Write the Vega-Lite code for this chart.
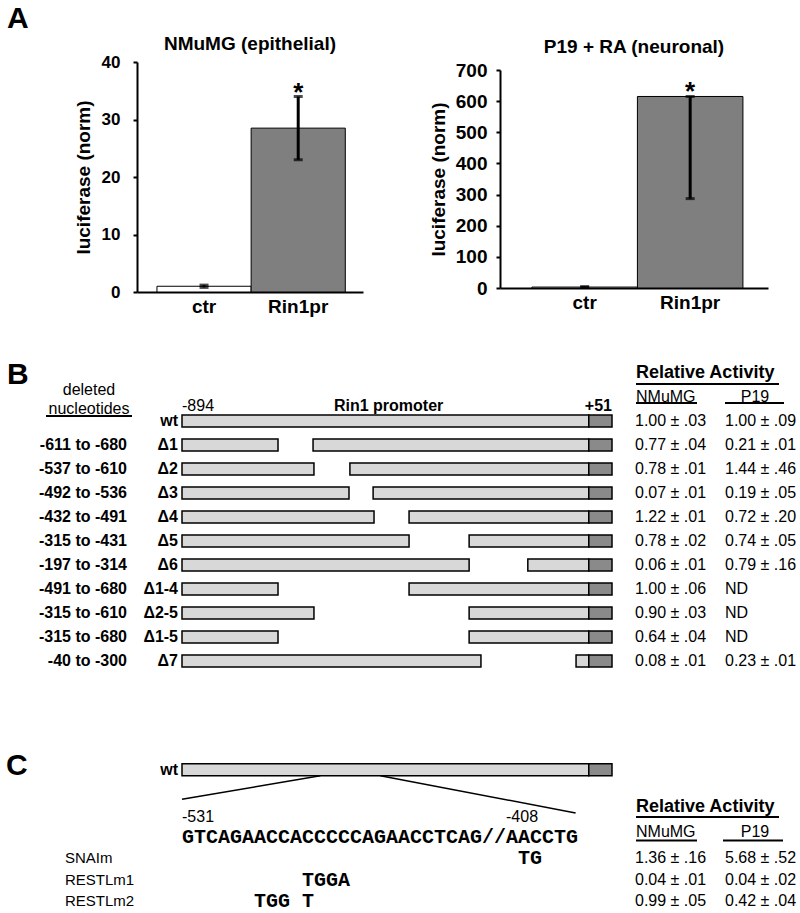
{
  "$schema": "https://vega.github.io/schema/vega-lite/v6.json",
  "background": "white",
  "padding": {"left": 6, "top": 4, "right": 0, "bottom": 0},
  "config": {
    "font": "Liberation Sans",
    "view": {"stroke": null},
    "text": {"color": "black", "font": "Liberation Sans"},
    "title": {"color": "black"},
    "axis": {"labelColor": "black", "titleColor": "black", "domainColor": "black", "tickColor": "black", "grid": false}
  },
  "datasets": {
    "a1": [
      {"sample": "ctr", "value": 1, "lo": 0.8, "hi": 1.2, "mark": ""},
      {"sample": "Rin1pr", "value": 28.5, "lo": 23, "hi": 34, "mark": "*"}
    ],
    "a2": [
      {"sample": "ctr", "value": 3, "lo": 1.5, "hi": 4.5, "mark": ""},
      {"sample": "Rin1pr", "value": 615, "lo": 287, "hi": 615, "mark": "*"}
    ],
    "segB": [
      {"construct": "wt", "start": -894, "end": 0, "part": "promoter"},
      {"construct": "wt", "start": 0, "end": 51, "part": "luc"},
      {"construct": "Δ1", "start": -894, "end": -683, "part": "promoter"},
      {"construct": "Δ1", "start": -606, "end": 0, "part": "promoter"},
      {"construct": "Δ1", "start": 0, "end": 51, "part": "luc"},
      {"construct": "Δ2", "start": -894, "end": -604, "part": "promoter"},
      {"construct": "Δ2", "start": -525, "end": 0, "part": "promoter"},
      {"construct": "Δ2", "start": 0, "end": 51, "part": "luc"},
      {"construct": "Δ3", "start": -894, "end": -527, "part": "promoter"},
      {"construct": "Δ3", "start": -474, "end": 0, "part": "promoter"},
      {"construct": "Δ3", "start": 0, "end": 51, "part": "luc"},
      {"construct": "Δ4", "start": -894, "end": -472, "part": "promoter"},
      {"construct": "Δ4", "start": -395, "end": 0, "part": "promoter"},
      {"construct": "Δ4", "start": 0, "end": 51, "part": "luc"},
      {"construct": "Δ5", "start": -894, "end": -395, "part": "promoter"},
      {"construct": "Δ5", "start": -263, "end": 0, "part": "promoter"},
      {"construct": "Δ5", "start": 0, "end": 51, "part": "luc"},
      {"construct": "Δ6", "start": -894, "end": -263, "part": "promoter"},
      {"construct": "Δ6", "start": -134, "end": 0, "part": "promoter"},
      {"construct": "Δ6", "start": 0, "end": 51, "part": "luc"},
      {"construct": "Δ1-4", "start": -894, "end": -683, "part": "promoter"},
      {"construct": "Δ1-4", "start": -395, "end": 0, "part": "promoter"},
      {"construct": "Δ1-4", "start": 0, "end": 51, "part": "luc"},
      {"construct": "Δ2-5", "start": -894, "end": -604, "part": "promoter"},
      {"construct": "Δ2-5", "start": -263, "end": 0, "part": "promoter"},
      {"construct": "Δ2-5", "start": 0, "end": 51, "part": "luc"},
      {"construct": "Δ1-5", "start": -894, "end": -683, "part": "promoter"},
      {"construct": "Δ1-5", "start": -263, "end": 0, "part": "promoter"},
      {"construct": "Δ1-5", "start": 0, "end": 51, "part": "luc"},
      {"construct": "Δ7", "start": -894, "end": -237, "part": "promoter"},
      {"construct": "Δ7", "start": -28, "end": 0, "part": "promoter"},
      {"construct": "Δ7", "start": 0, "end": 51, "part": "luc"}
    ],
    "conB": [
      {"construct": "wt", "deleted": "", "nm": "1.00 ± .03", "p19": "1.00 ± .09"},
      {"construct": "Δ1", "deleted": "-611 to -680", "nm": "0.77 ± .04", "p19": "0.21 ± .01"},
      {"construct": "Δ2", "deleted": "-537 to -610", "nm": "0.78 ± .01", "p19": "1.44 ± .46"},
      {"construct": "Δ3", "deleted": "-492 to -536", "nm": "0.07 ± .01", "p19": "0.19 ± .05"},
      {"construct": "Δ4", "deleted": "-432 to -491", "nm": "1.22 ± .01", "p19": "0.72 ± .20"},
      {"construct": "Δ5", "deleted": "-315 to -431", "nm": "0.78 ± .02", "p19": "0.74 ± .05"},
      {"construct": "Δ6", "deleted": "-197 to -314", "nm": "0.06 ± .01", "p19": "0.79 ± .16"},
      {"construct": "Δ1-4", "deleted": "-491 to -680", "nm": "1.00 ± .06", "p19": "ND"},
      {"construct": "Δ2-5", "deleted": "-315 to -610", "nm": "0.90 ± .03", "p19": "ND"},
      {"construct": "Δ1-5", "deleted": "-315 to -680", "nm": "0.64 ± .04", "p19": "ND"},
      {"construct": "Δ7", "deleted": "-40 to -300", "nm": "0.08 ± .01", "p19": "0.23 ± .01"}
    ],
    "segC": [
      {"row": "wt", "start": -894, "end": 0, "part": "promoter"},
      {"row": "wt", "start": 0, "end": 51, "part": "luc"}
    ],
    "mutC": [
      {"row": "SNAIm", "mut": "TG", "mpos": 28, "nm": "1.36 ± .16", "p19": "5.68 ± .52"},
      {"row": "RESTLm1", "mut": "TGGA", "mpos": 10, "nm": "0.04 ± .01", "p19": "0.04 ± .02"},
      {"row": "RESTLm2", "mut": "TGG T", "mpos": 6, "nm": "0.99 ± .05", "p19": "0.42 ± .04"}
    ]
  },
  "concat": [
    {
      "hconcat": [
        {"width": 121, "height": 1, "data": {"values": []}, "mark": "point",
          "title": {"text": "A", "anchor": "start", "fontSize": 30, "fontWeight": "bold", "baseline": "top", "offset": 0, "dy": -28, "dx": 1}},
        {
          "width": 226,
          "height": 230,
          "title": {"text": "NMuMG (epithelial)", "fontSize": 19, "fontWeight": "bold", "offset": -1},
          "data": {"name": "a1"},
          "encoding": {
            "x": {"field": "sample", "type": "nominal", "sort": ["ctr", "Rin1pr"], "scale": {"paddingInner": 0, "paddingOuter": 0.2, "align": 0.53},
              "axis": {"title": null, "labelAngle": 0, "ticks": false, "labelFontSize": 19, "labelFontWeight": "bold", "labelPadding": 5, "domainWidth": 2}}
          },
          "layer": [
            {"mark": {"type": "bar", "stroke": "black", "strokeWidth": 1},
              "encoding": {
                "y": {"field": "value", "type": "quantitative", "scale": {"domain": [0, 40]}, "title": "luciferase (norm)",
                  "axis": {"titleFontSize": 19, "titleFontWeight": "bold", "titlePadding": 8, "values": [0, 10, 20, 30, 40], "labelOverlap": false, "labelFontSize": 17, "labelFontWeight": "bold", "labelPadding": 13, "tickSize": 4, "tickWidth": 2, "domainWidth": 2}},
                "fill": {"field": "sample", "type": "nominal", "scale": {"domain": ["ctr", "Rin1pr"], "range": ["white", "#7f7f7f"]}, "legend": null}}},
            {"mark": {"type": "rule", "strokeWidth": 3, "color": "black"},
              "encoding": {"y": {"field": "lo", "type": "quantitative", "title": "luciferase (norm)",
                  "axis": {"titleFontSize": 19, "titleFontWeight": "bold", "titlePadding": 8, "values": [0, 10, 20, 30, 40], "labelOverlap": false, "labelFontSize": 17, "labelFontWeight": "bold", "labelPadding": 13, "tickSize": 4, "tickWidth": 2, "domainWidth": 2}}, "y2": {"field": "hi"}}},
            {"mark": {"type": "tick", "orient": "horizontal", "size": 9, "thickness": 3, "color": "black"},
              "encoding": {"y": {"field": "lo", "type": "quantitative", "title": "luciferase (norm)",
                  "axis": {"titleFontSize": 19, "titleFontWeight": "bold", "titlePadding": 8, "values": [0, 10, 20, 30, 40], "labelOverlap": false, "labelFontSize": 17, "labelFontWeight": "bold", "labelPadding": 13, "tickSize": 4, "tickWidth": 2, "domainWidth": 2}}}},
            {"mark": {"type": "tick", "orient": "horizontal", "size": 9, "thickness": 3, "color": "black"},
              "encoding": {"y": {"field": "hi", "type": "quantitative", "title": "luciferase (norm)",
                  "axis": {"titleFontSize": 19, "titleFontWeight": "bold", "titlePadding": 8, "values": [0, 10, 20, 30, 40], "labelOverlap": false, "labelFontSize": 17, "labelFontWeight": "bold", "labelPadding": 13, "tickSize": 4, "tickWidth": 2, "domainWidth": 2}}}},
            {"mark": {"type": "text", "fontSize": 26, "fontWeight": "bold", "dy": 4, "baseline": "alphabetic"},
              "encoding": {"y": {"field": "hi", "type": "quantitative", "title": "luciferase (norm)",
                  "axis": {"titleFontSize": 19, "titleFontWeight": "bold", "titlePadding": 8, "values": [0, 10, 20, 30, 40], "labelOverlap": false, "labelFontSize": 17, "labelFontWeight": "bold", "labelPadding": 13, "tickSize": 4, "tickWidth": 2, "domainWidth": 2}}, "text": {"field": "mark"}}}
          ]
        },
        {"width": 117, "height": 1, "data": {"values": []}, "mark": "point"},
        {
          "width": 268,
          "height": 226,
          "title": {"text": "P19 + RA (neuronal)", "fontSize": 19, "fontWeight": "bold", "offset": 4},
          "data": {"name": "a2"},
          "encoding": {
            "x": {"field": "sample", "type": "nominal", "sort": ["ctr", "Rin1pr"], "scale": {"paddingInner": 0, "paddingOuter": 0.27, "align": 0.56},
              "axis": {"title": null, "labelAngle": 0, "ticks": false, "labelFontSize": 19, "labelFontWeight": "bold", "labelPadding": 5, "domainWidth": 2}}
          },
          "layer": [
            {"mark": {"type": "bar", "stroke": "black", "strokeWidth": 1},
              "encoding": {
                "y": {"field": "value", "type": "quantitative", "scale": {"domain": [0, 700], "range": [226, 8]}, "title": "luciferase (norm)",
                  "axis": {"titleFontSize": 19, "titleFontWeight": "bold", "titlePadding": 7, "values": [0, 100, 200, 300, 400, 500, 600, 700], "tickCount": 8, "labelOverlap": false, "labelFontSize": 19, "labelFontWeight": "bold", "labelPadding": 9, "tickSize": 4, "tickWidth": 2, "domainWidth": 2}},
                "fill": {"field": "sample", "type": "nominal", "scale": {"domain": ["ctr", "Rin1pr"], "range": ["white", "#7f7f7f"]}, "legend": null}}},
            {"mark": {"type": "rule", "strokeWidth": 3, "color": "black"},
              "encoding": {"y": {"field": "lo", "type": "quantitative", "title": "luciferase (norm)",
                  "axis": {"titleFontSize": 19, "titleFontWeight": "bold", "titlePadding": 7, "values": [0, 100, 200, 300, 400, 500, 600, 700], "tickCount": 8, "labelOverlap": false, "labelFontSize": 19, "labelFontWeight": "bold", "labelPadding": 9, "tickSize": 4, "tickWidth": 2, "domainWidth": 2}}, "y2": {"field": "hi"}}},
            {"mark": {"type": "tick", "orient": "horizontal", "size": 9, "thickness": 3, "color": "black"},
              "encoding": {"y": {"field": "lo", "type": "quantitative", "title": "luciferase (norm)",
                  "axis": {"titleFontSize": 19, "titleFontWeight": "bold", "titlePadding": 7, "values": [0, 100, 200, 300, 400, 500, 600, 700], "tickCount": 8, "labelOverlap": false, "labelFontSize": 19, "labelFontWeight": "bold", "labelPadding": 9, "tickSize": 4, "tickWidth": 2, "domainWidth": 2}}}},
            {"mark": {"type": "tick", "orient": "horizontal", "size": 9, "thickness": 3, "color": "black"},
              "encoding": {"y": {"field": "hi", "type": "quantitative", "title": "luciferase (norm)",
                  "axis": {"titleFontSize": 19, "titleFontWeight": "bold", "titlePadding": 7, "values": [0, 100, 200, 300, 400, 500, 600, 700], "tickCount": 8, "labelOverlap": false, "labelFontSize": 19, "labelFontWeight": "bold", "labelPadding": 9, "tickSize": 4, "tickWidth": 2, "domainWidth": 2}}}},
            {"mark": {"type": "text", "fontSize": 26, "fontWeight": "bold", "dy": 4, "baseline": "alphabetic"},
              "encoding": {"y": {"field": "hi", "type": "quantitative", "title": "luciferase (norm)",
                  "axis": {"titleFontSize": 19, "titleFontWeight": "bold", "titlePadding": 7, "values": [0, 100, 200, 300, 400, 500, 600, 700], "tickCount": 8, "labelOverlap": false, "labelFontSize": 19, "labelFontWeight": "bold", "labelPadding": 9, "tickSize": 4, "tickWidth": 2, "domainWidth": 2}}, "text": {"field": "mark"}}}
          ]
        }
      ],
      "spacing": 10,
      "bounds": "flush"
    },
    {
      "concat": [
        {
          "hconcat": [
            {"width": 166, "height": 1, "data": {"values": []}, "mark": "point",
              "title": {"text": "B", "anchor": "start", "fontSize": 30, "fontWeight": "bold", "baseline": "top", "offset": 0, "dy": 29, "dx": 1}},
            {
              "width": 430,
              "height": 312,
              "layer": [
                {"data": {"name": "segB"}, "transform": [{"filter": "datum.part == 'promoter'"}],
                  "mark": {"type": "rect", "stroke": "black", "strokeWidth": 1.5, "fill": "#d8d8d8", "fillOpacity": 1, "height": 12},
                  "encoding": {
                    "x": {"field": "start", "type": "quantitative", "scale": {"domain": [-894, 51], "nice": false, "zero": false}, "axis": null},
                    "x2": {"field": "end"},
                    "y": {"field": "construct", "type": "nominal", "scale": {"domain": ["h1", "h2", "wt", "Δ1", "Δ2", "Δ3", "Δ4", "Δ5", "Δ6", "Δ1-4", "Δ2-5", "Δ1-5", "Δ7"], "paddingInner": 0.5, "paddingOuter": 0.25}, "axis": null}}},
                {"data": {"name": "segB"}, "transform": [{"filter": "datum.part == 'luc'"}],
                  "mark": {"type": "rect", "stroke": "black", "strokeWidth": 1.5, "fill": "#8a8a8a", "fillOpacity": 1, "height": 12},
                  "encoding": {
                    "x": {"field": "start", "type": "quantitative", "scale": {"domain": [-894, 51], "nice": false, "zero": false}, "axis": null},
                    "x2": {"field": "end"},
                    "y": {"field": "construct", "type": "nominal", "scale": {"domain": ["h1", "h2", "wt", "Δ1", "Δ2", "Δ3", "Δ4", "Δ5", "Δ6", "Δ1-4", "Δ2-5", "Δ1-5", "Δ7"], "paddingInner": 0.5, "paddingOuter": 0.25}, "axis": null}}},
                {"data": {"name": "conB"}, "mark": {"type": "text", "align": "right", "dx": -4, "fontSize": 16, "fontWeight": "bold"},
                  "encoding": {
                    "x": {"datum": -894, "type": "quantitative", "scale": {"domain": [-894, 51], "nice": false, "zero": false}, "axis": null},
                    "y": {"field": "construct", "type": "nominal", "scale": {"domain": ["h1", "h2", "wt", "Δ1", "Δ2", "Δ3", "Δ4", "Δ5", "Δ6", "Δ1-4", "Δ2-5", "Δ1-5", "Δ7"], "paddingInner": 0.5, "paddingOuter": 0.25}, "axis": null},
                    "text": {"field": "construct"}}},
                {"data": {"name": "conB"}, "mark": {"type": "text", "align": "right", "dx": -55, "fontSize": 16, "fontWeight": "bold"},
                  "encoding": {
                    "x": {"datum": -894, "type": "quantitative", "scale": {"domain": [-894, 51], "nice": false, "zero": false}, "axis": null},
                    "y": {"field": "construct", "type": "nominal", "scale": {"domain": ["h1", "h2", "wt", "Δ1", "Δ2", "Δ3", "Δ4", "Δ5", "Δ6", "Δ1-4", "Δ2-5", "Δ1-5", "Δ7"], "paddingInner": 0.5, "paddingOuter": 0.25}, "axis": null},
                    "text": {"field": "deleted"}}},
                {"data": {"name": "conB"}, "mark": {"type": "text", "align": "left", "dx": 23, "fontSize": 16},
                  "encoding": {
                    "x": {"datum": 51, "type": "quantitative", "scale": {"domain": [-894, 51], "nice": false, "zero": false}, "axis": null},
                    "y": {"field": "construct", "type": "nominal", "scale": {"domain": ["h1", "h2", "wt", "Δ1", "Δ2", "Δ3", "Δ4", "Δ5", "Δ6", "Δ1-4", "Δ2-5", "Δ1-5", "Δ7"], "paddingInner": 0.5, "paddingOuter": 0.25}, "axis": null},
                    "text": {"field": "nm"}}},
                {"data": {"name": "conB"}, "mark": {"type": "text", "align": "left", "dx": 113, "fontSize": 16},
                  "encoding": {
                    "x": {"datum": 51, "type": "quantitative", "scale": {"domain": [-894, 51], "nice": false, "zero": false}, "axis": null},
                    "y": {"field": "construct", "type": "nominal", "scale": {"domain": ["h1", "h2", "wt", "Δ1", "Δ2", "Δ3", "Δ4", "Δ5", "Δ6", "Δ1-4", "Δ2-5", "Δ1-5", "Δ7"], "paddingInner": 0.5, "paddingOuter": 0.25}, "axis": null},
                    "text": {"field": "p19"}}},
                {"data": {"values": [{}]}, "mark": {"type": "text", "align": "left", "dx": 24, "fontSize": 18, "fontWeight": "bold"},
                  "encoding": {
                    "x": {"datum": 51, "type": "quantitative", "scale": {"domain": [-894, 51], "nice": false, "zero": false}, "axis": null},
                    "y": {"datum": "h1", "type": "nominal", "scale": {"domain": ["h1", "h2", "wt", "Δ1", "Δ2", "Δ3", "Δ4", "Δ5", "Δ6", "Δ1-4", "Δ2-5", "Δ1-5", "Δ7"], "paddingInner": 0.5, "paddingOuter": 0.25}, "axis": null},
                    "text": {"value": "Relative Activity"}}},
                {"data": {"values": [{}]}, "mark": {"type": "text", "align": "left", "dx": 24, "fontSize": 16},
                  "encoding": {
                    "x": {"datum": 51, "type": "quantitative", "scale": {"domain": [-894, 51], "nice": false, "zero": false}, "axis": null},
                    "y": {"datum": "h2", "type": "nominal", "scale": {"domain": ["h1", "h2", "wt", "Δ1", "Δ2", "Δ3", "Δ4", "Δ5", "Δ6", "Δ1-4", "Δ2-5", "Δ1-5", "Δ7"], "paddingInner": 0.5, "paddingOuter": 0.25}, "axis": null},
                    "text": {"value": "NMuMG"}}},
                {"data": {"values": [{}]}, "mark": {"type": "text", "align": "center", "dx": 143, "fontSize": 16},
                  "encoding": {
                    "x": {"datum": 51, "type": "quantitative", "scale": {"domain": [-894, 51], "nice": false, "zero": false}, "axis": null},
                    "y": {"datum": "h2", "type": "nominal", "scale": {"domain": ["h1", "h2", "wt", "Δ1", "Δ2", "Δ3", "Δ4", "Δ5", "Δ6", "Δ1-4", "Δ2-5", "Δ1-5", "Δ7"], "paddingInner": 0.5, "paddingOuter": 0.25}, "axis": null},
                    "text": {"value": "P19"}}},
                {"data": {"values": [{}]}, "mark": {"type": "text", "align": "center", "dx": -93, "dy": -7, "fontSize": 16},
                  "encoding": {
                    "x": {"datum": -894, "type": "quantitative", "scale": {"domain": [-894, 51], "nice": false, "zero": false}, "axis": null},
                    "y": {"datum": "h2", "type": "nominal", "scale": {"domain": ["h1", "h2", "wt", "Δ1", "Δ2", "Δ3", "Δ4", "Δ5", "Δ6", "Δ1-4", "Δ2-5", "Δ1-5", "Δ7"], "paddingInner": 0.5, "paddingOuter": 0.25}, "axis": null},
                    "text": {"value": "deleted"}}},
                {"data": {"values": [{}]}, "mark": {"type": "text", "align": "center", "dx": -93, "dy": 12, "fontSize": 16},
                  "encoding": {
                    "x": {"datum": -894, "type": "quantitative", "scale": {"domain": [-894, 51], "nice": false, "zero": false}, "axis": null},
                    "y": {"datum": "h2", "type": "nominal", "scale": {"domain": ["h1", "h2", "wt", "Δ1", "Δ2", "Δ3", "Δ4", "Δ5", "Δ6", "Δ1-4", "Δ2-5", "Δ1-5", "Δ7"], "paddingInner": 0.5, "paddingOuter": 0.25}, "axis": null},
                    "text": {"value": "nucleotides"}}},
                {"data": {"values": [{}]}, "mark": {"type": "text", "align": "left", "dy": 9, "fontSize": 16},
                  "encoding": {
                    "x": {"datum": -894, "type": "quantitative", "scale": {"domain": [-894, 51], "nice": false, "zero": false}, "axis": null},
                    "y": {"datum": "h2", "type": "nominal", "scale": {"domain": ["h1", "h2", "wt", "Δ1", "Δ2", "Δ3", "Δ4", "Δ5", "Δ6", "Δ1-4", "Δ2-5", "Δ1-5", "Δ7"], "paddingInner": 0.5, "paddingOuter": 0.25}, "axis": null},
                    "text": {"value": "-894"}}},
                {"data": {"values": [{}]}, "mark": {"type": "text", "align": "center", "dy": 9, "fontSize": 16, "fontWeight": "bold"},
                  "encoding": {
                    "x": {"datum": -440, "type": "quantitative", "scale": {"domain": [-894, 51], "nice": false, "zero": false}, "axis": null},
                    "y": {"datum": "h2", "type": "nominal", "scale": {"domain": ["h1", "h2", "wt", "Δ1", "Δ2", "Δ3", "Δ4", "Δ5", "Δ6", "Δ1-4", "Δ2-5", "Δ1-5", "Δ7"], "paddingInner": 0.5, "paddingOuter": 0.25}, "axis": null},
                    "text": {"value": "Rin1 promoter"}}},
                {"data": {"values": [{}]}, "mark": {"type": "text", "align": "right", "dy": 9, "fontSize": 16, "fontWeight": "bold"},
                  "encoding": {
                    "x": {"datum": 51, "type": "quantitative", "scale": {"domain": [-894, 51], "nice": false, "zero": false}, "axis": null},
                    "y": {"datum": "h2", "type": "nominal", "scale": {"domain": ["h1", "h2", "wt", "Δ1", "Δ2", "Δ3", "Δ4", "Δ5", "Δ6", "Δ1-4", "Δ2-5", "Δ1-5", "Δ7"], "paddingInner": 0.5, "paddingOuter": 0.25}, "axis": null},
                    "text": {"value": "+51"}}},
                {"data": {"values": [{}]}, "mark": {"type": "rule", "strokeWidth": 2, "color": "black", "xOffset": 24, "x2Offset": 167, "yOffset": 11},
                  "encoding": {
                    "x": {"datum": 51, "type": "quantitative", "scale": {"domain": [-894, 51], "nice": false, "zero": false}, "axis": null},
                    "x2": {"datum": 51},
                    "y": {"datum": "h1", "type": "nominal", "scale": {"domain": ["h1", "h2", "wt", "Δ1", "Δ2", "Δ3", "Δ4", "Δ5", "Δ6", "Δ1-4", "Δ2-5", "Δ1-5", "Δ7"], "paddingInner": 0.5, "paddingOuter": 0.25}, "axis": null}}},
                {"data": {"values": [{}]}, "mark": {"type": "rule", "strokeWidth": 2, "color": "black", "xOffset": 24, "x2Offset": 85, "yOffset": 6},
                  "encoding": {
                    "x": {"datum": 51, "type": "quantitative", "scale": {"domain": [-894, 51], "nice": false, "zero": false}, "axis": null},
                    "x2": {"datum": 51},
                    "y": {"datum": "h2", "type": "nominal", "scale": {"domain": ["h1", "h2", "wt", "Δ1", "Δ2", "Δ3", "Δ4", "Δ5", "Δ6", "Δ1-4", "Δ2-5", "Δ1-5", "Δ7"], "paddingInner": 0.5, "paddingOuter": 0.25}, "axis": null}}},
                {"data": {"values": [{}]}, "mark": {"type": "rule", "strokeWidth": 2, "color": "black", "xOffset": 113, "x2Offset": 172, "yOffset": 6},
                  "encoding": {
                    "x": {"datum": 51, "type": "quantitative", "scale": {"domain": [-894, 51], "nice": false, "zero": false}, "axis": null},
                    "x2": {"datum": 51},
                    "y": {"datum": "h2", "type": "nominal", "scale": {"domain": ["h1", "h2", "wt", "Δ1", "Δ2", "Δ3", "Δ4", "Δ5", "Δ6", "Δ1-4", "Δ2-5", "Δ1-5", "Δ7"], "paddingInner": 0.5, "paddingOuter": 0.25}, "axis": null}}},
                {"data": {"values": [{}]}, "mark": {"type": "rule", "strokeWidth": 2, "color": "black", "xOffset": -136, "x2Offset": -50, "yOffset": 19},
                  "encoding": {
                    "x": {"datum": -894, "type": "quantitative", "scale": {"domain": [-894, 51], "nice": false, "zero": false}, "axis": null},
                    "x2": {"datum": -894},
                    "y": {"datum": "h2", "type": "nominal", "scale": {"domain": ["h1", "h2", "wt", "Δ1", "Δ2", "Δ3", "Δ4", "Δ5", "Δ6", "Δ1-4", "Δ2-5", "Δ1-5", "Δ7"], "paddingInner": 0.5, "paddingOuter": 0.25}, "axis": null}}}
              ]
            }
          ],
          "spacing": 10,
          "bounds": "flush"
        },
        {
          "hconcat": [
            {"width": 166, "height": 1, "data": {"values": []}, "mark": "point",
              "title": {"text": "C", "anchor": "start", "fontSize": 30, "fontWeight": "bold", "baseline": "top", "offset": 0, "dy": 22, "dx": 0}},
            {
              "width": 430,
              "height": 151,
              "resolve": {"scale": {"x": "independent"}},
              "layer": [
                {"data": {"name": "segC"}, "transform": [{"filter": "datum.part == 'promoter'"}],
                  "mark": {"type": "rect", "stroke": "black", "strokeWidth": 1.5, "fill": "#d8d8d8", "fillOpacity": 1, "height": 12},
                  "encoding": {
                    "x": {"field": "start", "type": "quantitative", "scale": {"domain": [-894, 51], "nice": false, "zero": false}, "axis": null},
                    "x2": {"field": "end"},
                    "y": {"field": "row", "type": "nominal", "scale": {"domain": ["wt", "z1", "z2", "seq", "SNAIm", "RESTLm1", "RESTLm2"], "paddingInner": 0.442, "paddingOuter": 0.221}, "axis": null}}},
                {"data": {"name": "segC"}, "transform": [{"filter": "datum.part == 'luc'"}],
                  "mark": {"type": "rect", "stroke": "black", "strokeWidth": 1.5, "fill": "#8a8a8a", "fillOpacity": 1, "height": 12},
                  "encoding": {
                    "x": {"field": "start", "type": "quantitative", "scale": {"domain": [-894, 51], "nice": false, "zero": false}, "axis": null},
                    "x2": {"field": "end"},
                    "y": {"field": "row", "type": "nominal", "scale": {"domain": ["wt", "z1", "z2", "seq", "SNAIm", "RESTLm1", "RESTLm2"], "paddingInner": 0.442, "paddingOuter": 0.221}, "axis": null}}},
                {"data": {"values": [{}]}, "mark": {"type": "text", "align": "right", "dx": -4, "fontSize": 16, "fontWeight": "bold"},
                  "encoding": {
                    "x": {"datum": -894, "type": "quantitative", "scale": {"domain": [-894, 51], "nice": false, "zero": false}, "axis": null},
                    "y": {"datum": "wt", "type": "nominal", "scale": {"domain": ["wt", "z1", "z2", "seq", "SNAIm", "RESTLm1", "RESTLm2"], "paddingInner": 0.442, "paddingOuter": 0.221}, "axis": null},
                    "text": {"value": "wt"}}},
                {"data": {"values": [{}]}, "mark": {"type": "rule", "strokeWidth": 1.5, "color": "black", "yOffset": 6, "y2Offset": 8},
                  "encoding": {
                    "x": {"datum": -590, "type": "quantitative", "scale": {"domain": [-894, 51], "nice": false, "zero": false}, "axis": null},
                    "x2": {"datum": -894},
                    "y": {"datum": "wt", "type": "nominal", "scale": {"domain": ["wt", "z1", "z2", "seq", "SNAIm", "RESTLm1", "RESTLm2"], "paddingInner": 0.442, "paddingOuter": 0.221}, "axis": null},
                    "y2": {"datum": "z1"}}},
                {"data": {"values": [{}]}, "mark": {"type": "rule", "strokeWidth": 1.5, "color": "black", "yOffset": 6, "y2Offset": 0},
                  "encoding": {
                    "x": {"datum": -458, "type": "quantitative", "scale": {"domain": [-894, 51], "nice": false, "zero": false}, "axis": null},
                    "x2": {"datum": -29},
                    "y": {"datum": "wt", "type": "nominal", "scale": {"domain": ["wt", "z1", "z2", "seq", "SNAIm", "RESTLm1", "RESTLm2"], "paddingInner": 0.442, "paddingOuter": 0.221}, "axis": null},
                    "y2": {"datum": "z2"}}},
                {"data": {"name": "mutC"}, "mark": {"type": "text", "align": "left", "dx": 23, "dy": 2, "fontSize": 16},
                  "encoding": {
                    "x": {"datum": 51, "type": "quantitative", "scale": {"domain": [-894, 51], "nice": false, "zero": false}, "axis": null},
                    "y": {"field": "row", "type": "nominal", "scale": {"domain": ["wt", "z1", "z2", "seq", "SNAIm", "RESTLm1", "RESTLm2"], "paddingInner": 0.442, "paddingOuter": 0.221}, "axis": null},
                    "text": {"field": "nm"}}},
                {"data": {"name": "mutC"}, "mark": {"type": "text", "align": "left", "dx": 113, "dy": 2, "fontSize": 16},
                  "encoding": {
                    "x": {"datum": 51, "type": "quantitative", "scale": {"domain": [-894, 51], "nice": false, "zero": false}, "axis": null},
                    "y": {"field": "row", "type": "nominal", "scale": {"domain": ["wt", "z1", "z2", "seq", "SNAIm", "RESTLm1", "RESTLm2"], "paddingInner": 0.442, "paddingOuter": 0.221}, "axis": null},
                    "text": {"field": "p19"}}},
                {"data": {"name": "mutC"}, "mark": {"type": "text", "align": "left", "dx": -117, "dy": 2, "fontSize": 15},
                  "encoding": {
                    "x": {"datum": -894, "type": "quantitative", "scale": {"domain": [-894, 51], "nice": false, "zero": false}, "axis": null},
                    "y": {"field": "row", "type": "nominal", "scale": {"domain": ["wt", "z1", "z2", "seq", "SNAIm", "RESTLm1", "RESTLm2"], "paddingInner": 0.442, "paddingOuter": 0.221}, "axis": null},
                    "text": {"field": "row"}}},
                {"data": {"values": [{}]}, "mark": {"type": "text", "align": "left", "dx": 24, "dy": -6, "fontSize": 18, "fontWeight": "bold"},
                  "encoding": {
                    "x": {"datum": 51, "type": "quantitative", "scale": {"domain": [-894, 51], "nice": false, "zero": false}, "axis": null},
                    "y": {"datum": "z2", "type": "nominal", "scale": {"domain": ["wt", "z1", "z2", "seq", "SNAIm", "RESTLm1", "RESTLm2"], "paddingInner": 0.442, "paddingOuter": 0.221}, "axis": null},
                    "text": {"value": "Relative Activity"}}},
                {"data": {"values": [{}]}, "mark": {"type": "rule", "strokeWidth": 2, "color": "black", "xOffset": 24, "x2Offset": 167, "yOffset": 4},
                  "encoding": {
                    "x": {"datum": 51, "type": "quantitative", "scale": {"domain": [-894, 51], "nice": false, "zero": false}, "axis": null},
                    "x2": {"datum": 51},
                    "y": {"datum": "z2", "type": "nominal", "scale": {"domain": ["wt", "z1", "z2", "seq", "SNAIm", "RESTLm1", "RESTLm2"], "paddingInner": 0.442, "paddingOuter": 0.221}, "axis": null}}},
                {"data": {"values": [{}]}, "mark": {"type": "text", "align": "left", "dx": 24, "dy": -3, "fontSize": 16},
                  "encoding": {
                    "x": {"datum": 51, "type": "quantitative", "scale": {"domain": [-894, 51], "nice": false, "zero": false}, "axis": null},
                    "y": {"datum": "seq", "type": "nominal", "scale": {"domain": ["wt", "z1", "z2", "seq", "SNAIm", "RESTLm1", "RESTLm2"], "paddingInner": 0.442, "paddingOuter": 0.221}, "axis": null},
                    "text": {"value": "NMuMG"}}},
                {"data": {"values": [{}]}, "mark": {"type": "text", "align": "center", "dx": 143, "dy": -3, "fontSize": 16},
                  "encoding": {
                    "x": {"datum": 51, "type": "quantitative", "scale": {"domain": [-894, 51], "nice": false, "zero": false}, "axis": null},
                    "y": {"datum": "seq", "type": "nominal", "scale": {"domain": ["wt", "z1", "z2", "seq", "SNAIm", "RESTLm1", "RESTLm2"], "paddingInner": 0.442, "paddingOuter": 0.221}, "axis": null},
                    "text": {"value": "P19"}}},
                {"data": {"values": [{}]}, "mark": {"type": "rule", "strokeWidth": 2, "color": "black", "xOffset": 24, "x2Offset": 85, "yOffset": 6},
                  "encoding": {
                    "x": {"datum": 51, "type": "quantitative", "scale": {"domain": [-894, 51], "nice": false, "zero": false}, "axis": null},
                    "x2": {"datum": 51},
                    "y": {"datum": "seq", "type": "nominal", "scale": {"domain": ["wt", "z1", "z2", "seq", "SNAIm", "RESTLm1", "RESTLm2"], "paddingInner": 0.442, "paddingOuter": 0.221}, "axis": null}}},
                {"data": {"values": [{}]}, "mark": {"type": "rule", "strokeWidth": 2, "color": "black", "xOffset": 111, "x2Offset": 171, "yOffset": 6},
                  "encoding": {
                    "x": {"datum": 51, "type": "quantitative", "scale": {"domain": [-894, 51], "nice": false, "zero": false}, "axis": null},
                    "x2": {"datum": 51},
                    "y": {"datum": "seq", "type": "nominal", "scale": {"domain": ["wt", "z1", "z2", "seq", "SNAIm", "RESTLm1", "RESTLm2"], "paddingInner": 0.442, "paddingOuter": 0.221}, "axis": null}}},
                {"data": {"values": [{}]}, "mark": {"type": "text", "align": "left", "dy": 2, "fontSize": 20, "fontWeight": "bold", "font": "Liberation Mono"},
                  "encoding": {
                    "x": {"datum": 0, "type": "quantitative", "scale": {"domain": [0, 35.833], "nice": false, "zero": false}, "axis": null},
                    "y": {"datum": "seq", "type": "nominal", "scale": {"domain": ["wt", "z1", "z2", "seq", "SNAIm", "RESTLm1", "RESTLm2"], "paddingInner": 0.442, "paddingOuter": 0.221}, "axis": null},
                    "text": {"value": "GTCAGAACCACCCCCAGAACCTCAG//AACCTG"}}},
                {"data": {"values": [{}]}, "mark": {"type": "text", "align": "left", "dy": 4, "fontSize": 16},
                  "encoding": {
                    "x": {"datum": 0, "type": "quantitative", "scale": {"domain": [0, 35.833], "nice": false, "zero": false}, "axis": null},
                    "y": {"datum": "z2", "type": "nominal", "scale": {"domain": ["wt", "z1", "z2", "seq", "SNAIm", "RESTLm1", "RESTLm2"], "paddingInner": 0.442, "paddingOuter": 0.221}, "axis": null},
                    "text": {"value": "-531"}}},
                {"data": {"values": [{}]}, "mark": {"type": "text", "align": "left", "dy": 4, "fontSize": 16},
                  "encoding": {
                    "x": {"datum": 27, "type": "quantitative", "scale": {"domain": [0, 35.833], "nice": false, "zero": false}, "axis": null},
                    "y": {"datum": "z2", "type": "nominal", "scale": {"domain": ["wt", "z1", "z2", "seq", "SNAIm", "RESTLm1", "RESTLm2"], "paddingInner": 0.442, "paddingOuter": 0.221}, "axis": null},
                    "text": {"value": "-408"}}},
                {"data": {"name": "mutC"}, "mark": {"type": "text", "align": "left", "dy": 2, "fontSize": 20, "fontWeight": "bold", "font": "Liberation Mono"},
                  "encoding": {
                    "x": {"field": "mpos", "type": "quantitative", "scale": {"domain": [0, 35.833], "nice": false, "zero": false}, "axis": null},
                    "y": {"field": "row", "type": "nominal", "scale": {"domain": ["wt", "z1", "z2", "seq", "SNAIm", "RESTLm1", "RESTLm2"], "paddingInner": 0.442, "paddingOuter": 0.221}, "axis": null},
                    "text": {"field": "mut"}}}
              ]
            }
          ],
          "spacing": 10,
          "bounds": "flush"
        }
      ],
      "columns": 1,
      "align": "none",
      "spacing": 78
    }
  ],
  "columns": 1,
  "align": "none",
  "spacing": 44
}
